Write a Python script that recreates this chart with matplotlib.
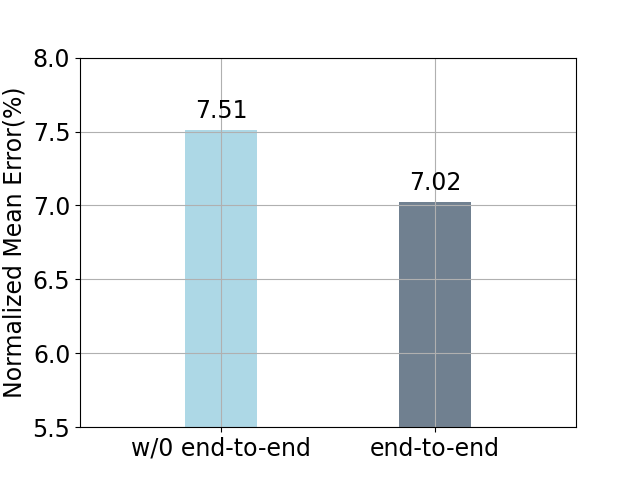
import matplotlib
matplotlib.use('Agg')
import matplotlib.pyplot as plt

# data
methods = ['w/0 end-to-end', 'end-to-end']
errors = [7.51, 7.02]
colors = ['lightblue', 'slategray']

fig, ax = plt.subplots(figsize=(6.4, 4.8), dpi=100)

pos = range(len(methods))
bars = ax.bar(pos, errors, width=1/3, color=colors)
for b, v in zip(bars, errors):
    ax.text(b.get_x() + b.get_width() / 2, v + 0.05, f'{v:.2f}',
            ha='center', va='bottom', fontsize=17)

ax.set_xticks(list(pos))
ax.set_xticklabels(methods, fontsize=17)
ax.tick_params(axis='y', labelsize=17)
ax.set_ylabel('Normalized Mean Error(%)', fontsize=17)
ax.set_ylim(5.5, 8.0)
ax.set_xlim(-0.66, 1.66)
ax.grid(True)

fig.savefig('out.png', dpi=100)
